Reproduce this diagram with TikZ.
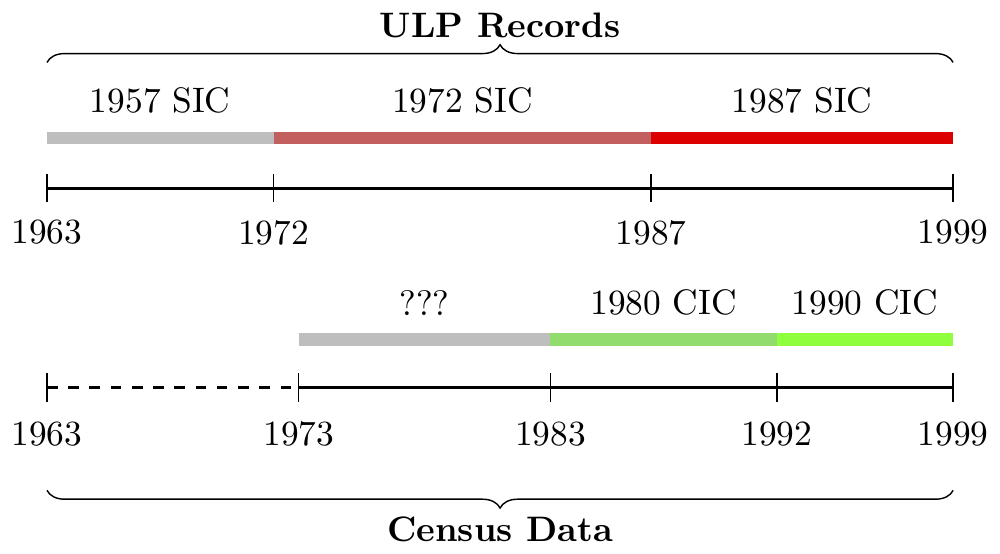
\documentclass[tikz,border=0pt]{standalone}
\usetikzlibrary{decorations.pathreplacing}
\definecolor{unknown}{HTML}{BEBEBE}
\definecolor{sicold}{HTML}{C26060}
\definecolor{sicnew}{HTML}{DC0000}
\definecolor{cicold}{HTML}{92DC6E}
\definecolor{cicnew}{HTML}{8FFF3D}

\begin{document}
\begin{tikzpicture}[x=0.25cm,y=1cm,
      period/.style={line width=3.6pt},
      axis/.style={thick},
      yeartick/.style={draw=black},
      barlabel/.style={above=1.7pt},
      span/.style={decorate,decoration={brace,amplitude=5pt}},
      title/.style={font=\bfseries}]
    \useasboundingbox (-1.867,0) rectangle (37.862,-5.493);
    % upper timeline: ULP records
    \foreach \yr in {1963,1972,1987,1999} {
      \coordinate (ua\yr) at (\yr-1963,-1.87);
      \coordinate (ub\yr) at (\yr-1963,-1.37);
      \draw[yeartick] (ua\yr) ++(0,4pt) -- ++(0,-8pt);
      \node (uy\yr) at (\yr-1963,-2.31) {\yr};
    }
    \draw[axis] (ua1963) -- (ua1999);
    \draw[period,draw=unknown] (ub1963) -- node[barlabel] (s57) {1957 SIC} (ub1972);
    \draw[period,draw=sicold] (ub1972) -- node[barlabel] (s72) {1972 SIC} (ub1987);
    \draw[period,draw=sicnew] (ub1987) -- node[barlabel] (s87) {1987 SIC} (ub1999);
    \coordinate (ulpl) at (0,-0.62);
    \coordinate (ulpr) at (36,-0.62);
    \draw[span] (ulpl) -- (ulpr);
    \node[title] (ulp) at (18,-0.25) {ULP Records};
    % lower timeline: census data
    \foreach \yr in {1963,1973,1983,1992,1999} {
      \coordinate (la\yr) at (\yr-1963,-3.85);
      \coordinate (lb\yr) at (\yr-1963,-3.37);
      \draw[yeartick] (la\yr) ++(0,4pt) -- ++(0,-8pt);
      \node (ly\yr) at (\yr-1963,-4.31) {\yr};
    }
    \draw[axis,dashed] (la1963) -- (la1973);
    \draw[axis] (la1973) -- (la1999);
    \draw[period,draw=unknown] (lb1973) -- node[barlabel] (cq) {???} (lb1983);
    \draw[period,draw=cicold] (lb1983) -- node[barlabel] (c80) {1980 CIC} (lb1992);
    \draw[period,draw=cicnew] (lb1992) -- node[barlabel] (c90) {1990 CIC} (lb1999);
    \coordinate (cenl) at (0,-4.87);
    \coordinate (cenr) at (36,-4.87);
    \draw[span,decoration={mirror}] (cenl) -- (cenr);
    \node[title] (census) at (18,-5.26) {Census Data};
\end{tikzpicture}
\end{document}
